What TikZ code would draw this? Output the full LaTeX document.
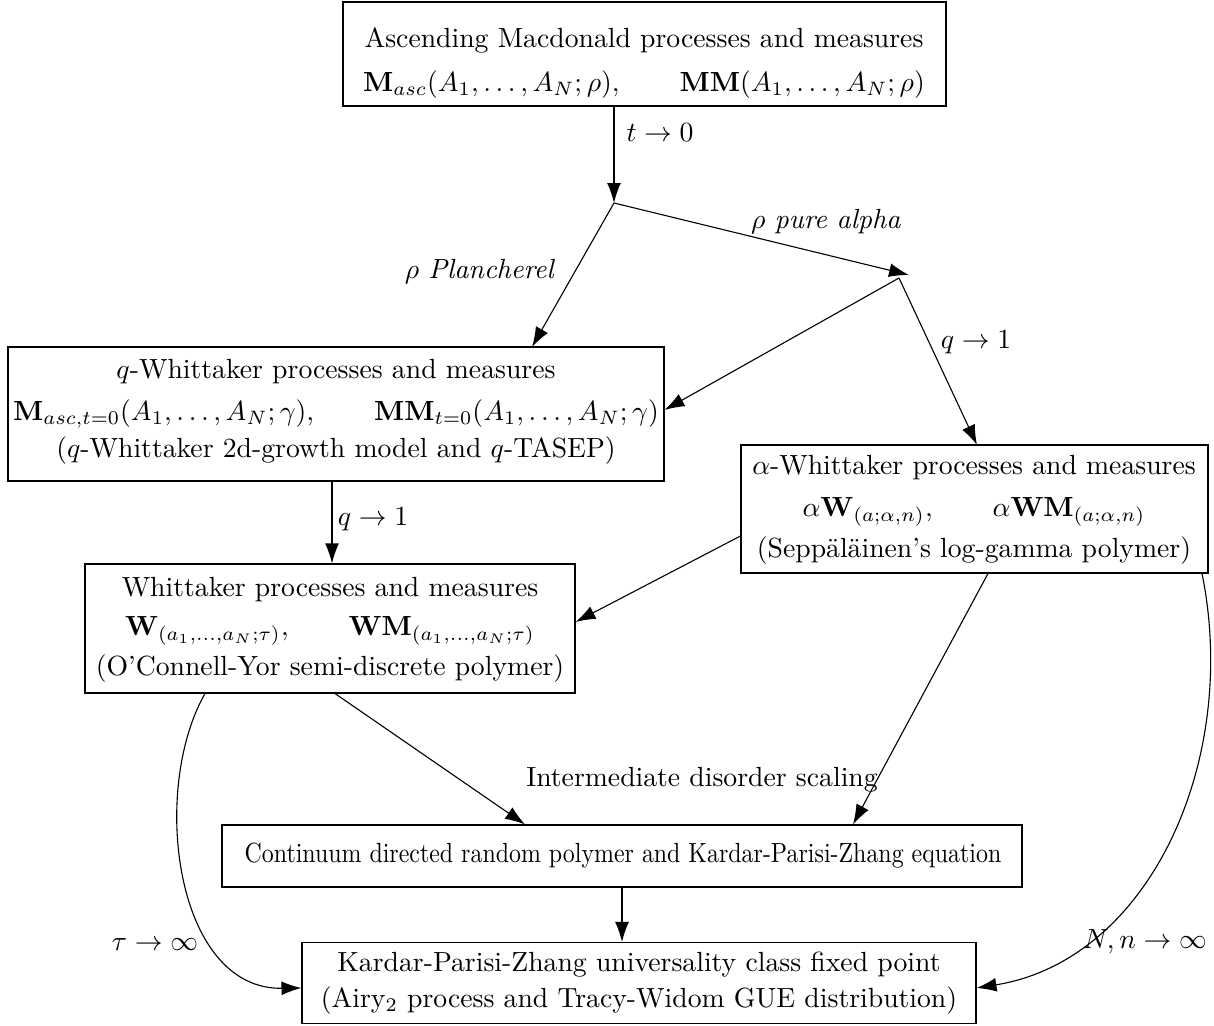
\documentclass[tikz,border=0pt]{standalone}
\usepackage{amsmath,amssymb,graphicx}
\usetikzlibrary{arrows.meta}
\begin{document}
\begin{tikzpicture}[x=0.361pt,y=-0.361pt,
  box/.style={draw,rectangle,inner sep=0pt},
  txt/.style={align=center,inner sep=0pt},
  arr/.style={-{Latex[length=7.2pt,width=5pt]}},
  lbl/.style={inner sep=0pt}]
\useasboundingbox (0,0) rectangle (1214,1026);
% boxes
\node[box,minimum width=603*0.361pt,minimum height=104*0.361pt] (top) at (644.5,54) {};
\node[txt] (topT) at (644,63) {Ascending Macdonald processes and measures\\[4pt]
 $\mathbf{M}_{asc}(A_1,\dots,A_N;\rho),\qquad \mathbf{MM}(A_1,\dots,A_N;\rho)$};
\node[box,minimum width=656*0.361pt,minimum height=134*0.361pt] (qw) at (336,414) {};
\node[txt] (qwT) at (336,412) {$q$-Whittaker processes and measures\\[3pt]
 $\mathbf{M}_{asc,t=0}(A_1,\dots,A_N;\gamma),\qquad \mathbf{MM}_{t=0}(A_1,\dots,A_N;\gamma)$\\[1.5pt]
 ($q$-Whittaker 2d-growth model and $q$-TASEP)};
\node[box,minimum width=467*0.361pt,minimum height=128*0.361pt] (aw) at (974.5,509) {};
\node[txt] (awT) at (974,510) {$\alpha$-Whittaker processes and measures\\[3pt]
 $\alpha\mathbf{W}_{(a;\alpha,n)},\qquad \alpha\mathbf{WM}_{(a;\alpha,n)}$\\[3pt]
 (Sepp\"al\"ainen's log-gamma polymer)};
\node[box,minimum width=490*0.361pt,minimum height=129*0.361pt] (w) at (330,628.5) {};
\node[txt] (wT) at (330,630) {Whittaker processes and measures\\[2pt]
 $\mathbf{W}_{(a_1,\dots,a_N;\tau)},\qquad \mathbf{WM}_{(a_1,\dots,a_N;\tau)}$\\[2.5pt]
 (O'Connell-Yor semi-discrete polymer)};
\node[box,minimum width=800*0.361pt,minimum height=62*0.361pt] (c) at (622,856) {};
\node[txt] (cT) at (623,856) {\scalebox{0.863}[1]{Continuum directed random polymer and Kardar-Parisi-Zhang equation}};
\node[box,minimum width=674*0.361pt,minimum height=81*0.361pt] (k) at (639,983) {};
\node[txt] (kT) at (639,983) {Kardar-Parisi-Zhang universality class fixed point\\[1pt]
 (Airy$_2$ process and Tracy-Widom GUE distribution)};
% junctions
\coordinate (j1) at (614,203);
\coordinate (j2) at (899,278);
\coordinate (j2t) at (909,275);
% connectors
\draw[arr] (top.south -| j1) -- (j1);
\draw[arr] (j1) -- (j2t);
\draw[arr] (j1) -- (532,347);
\draw[arr] (j2) -- (qw.east |- 0,410);
\draw[arr] (j2) -- (977,445);
\draw[arr] (qw.south -| 332,0) -- (w.north -| 332,0);
\draw[arr] (aw.west |- 0,536) -- (w.east |- 0,622);
\draw[arr] (w.south -| 335,0) -- (c.north -| 525,0);
\draw[arr] (aw.south -| 988,0) -- (c.north -| 853,0);
\draw[arr] (c.south) -- (k.north -| c.south);
\draw[arr] (w.south -| 205,0) .. controls (150,790) and (175,990) .. (k.west |- 0,988);
\draw[arr] (aw.south -| 1202,0) .. controls (1240,760) and (1150,960) .. (k.east |- 0,988);
% labels
\node[lbl] (l1) at (660,133) {$t\to 0$};
\node[lbl] (l2) at (826,222) {$\rho$ \textit{pure alpha}};
\node[lbl] (l3) at (480,272) {$\rho$ \textit{Plancherel}};
\node[lbl] (l4) at (976,342) {$q\to 1$};
\node[lbl] (l5) at (373,519) {$q\to 1$};
\node[lbl] (l6) at (702,780) {Intermediate disorder scaling};
\node[lbl] (l7) at (155,945) {$\tau\to\infty$};
\node[lbl] (l8) at (1145,942) {$N,n\to\infty$};
\end{tikzpicture}
\end{document}
